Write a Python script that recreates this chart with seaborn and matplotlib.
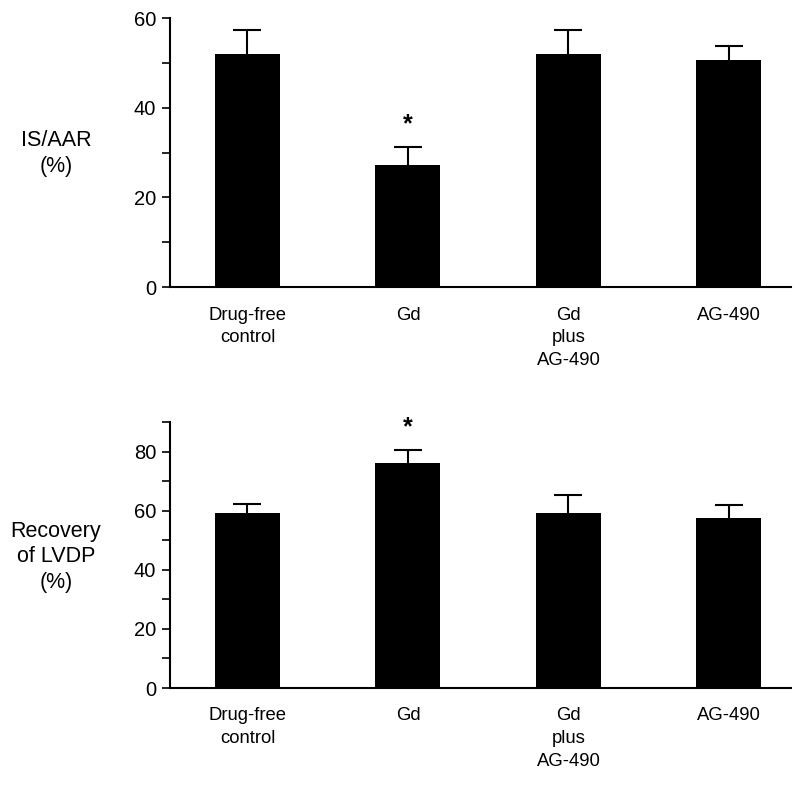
import numpy as np
import pandas as pd
import matplotlib
matplotlib.use("Agg")
import matplotlib.pyplot as plt
import seaborn as sns
from matplotlib.ticker import MultipleLocator

# values
groups = ["Drug-free\ncontrol", "Gd", "Gd\nplus\nAG-490", "AG-490"]
is_aar = [52.0, 27.2, 52.0, 50.6]
is_aar_err = [5.3, 4.0, 5.3, 3.1]
lvdp = [59.3, 76.3, 59.3, 57.6]
lvdp_err = [3.2, 4.2, 6.2, 4.4]
sig = [False, True, False, False]

sns.set_style("ticks")
plt.rcParams["font.family"] = ["Liberation Sans", "DejaVu Sans"]
plt.rcParams["text.color"] = "black"
plt.rcParams["xtick.color"] = "black"
plt.rcParams["ytick.color"] = "black"
plt.rcParams["axes.edgecolor"] = "black"

fig = plt.figure(figsize=(8, 7.93), dpi=100)
ax1 = fig.add_axes([0.2125, 0.638, 0.776, 0.339])
ax2 = fig.add_axes([0.2125, 0.1324, 0.776, 0.335])


def panel(ax, vals, errs, ymax, ylabel, ylab_y):
    df = pd.DataFrame({"group": groups, "value": vals})
    sns.barplot(data=df, x="group", y="value", color="black", width=0.405,
                saturation=1, ax=ax, edgecolor="none")
    # upper error bars only
    eb = ax.errorbar(range(len(vals)), vals, yerr=[np.zeros(len(vals)), errs],
                     fmt="none", ecolor="black", elinewidth=1.5, capsize=10,
                     capthick=1.5)
    eb[1][0].set_visible(False)  # hide the lower cap
    for i, (v, e, s) in enumerate(zip(vals, errs, sig)):
        if s:
            ax.annotate("*", (i, v + e), xytext=(0, 8), textcoords="offset points",
                        ha="center", va="bottom", fontsize=18, fontweight="bold")
    ax.set_xlim(-0.483, 3.386)
    ax.set_ylim(0, ymax)
    ax.yaxis.set_major_locator(MultipleLocator(20))
    ax.yaxis.set_minor_locator(MultipleLocator(10))
    ax.tick_params(axis="y", which="both", length=6, width=1.2, labelsize=14.5,
                   direction="out", pad=4)
    ax.tick_params(axis="x", length=0, labelsize=13.3, pad=14)
    for lab in ax.get_xticklabels():
        lab.set_linespacing(1.44)
    ax.set_xlabel("")
    ax.set_ylabel("")
    sns.despine(ax=ax)
    for sp in ["left", "bottom"]:
        ax.spines[sp].set_linewidth(1.5)
    fig.text(56 / 800, ylab_y, ylabel, ha="center", va="center", fontsize=15.5,
             linespacing=1.3)


panel(ax1, is_aar, is_aar_err, 60, "IS/AAR\n(%)", 1 - 153.5 / 793)
panel(ax2, lvdp, lvdp_err, 90, "Recovery\nof LVDP\n(%)", 1 - 557 / 793)

fig.savefig("out.png", dpi=100)
